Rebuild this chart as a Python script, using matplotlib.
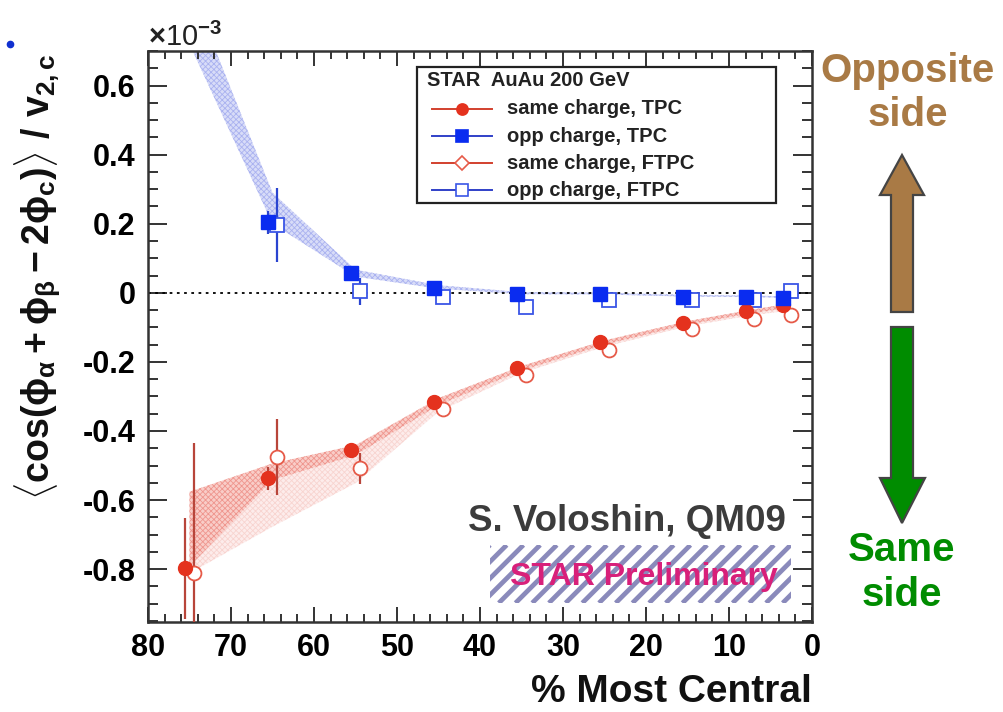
import numpy as np
import matplotlib
matplotlib.use("Agg")
import matplotlib.pyplot as plt
from matplotlib.patches import Polygon, Rectangle
from matplotlib.lines import Line2D
from matplotlib.transforms import Affine2D
from matplotlib.ticker import MultipleLocator

# ---------------------------------------------------------------- data (x 1e-3)
centrality = [75, 65, 55, 45, 35, 25, 15, 7.5, 3]

same_tpc = [-0.798, -0.537, -0.455, -0.315, -0.218, -0.143, -0.086, -0.054, -0.035]
same_tpc_err = [0.147, 0.034, 0.012, 0.010, 0.008, 0.007, 0.007, 0.007, 0.008]
opp_tpc = [np.nan, 0.204, 0.057, 0.0135, -0.004, -0.004, -0.011, -0.011, -0.015]
opp_tpc_err = [np.nan, 0.034, 0.010, 0.008, 0.006, 0.006, 0.006, 0.006, 0.007]
same_ftpc = [-0.810, -0.474, -0.508, -0.337, -0.238, -0.165, -0.105, -0.076, -0.064]
same_ftpc_err = [0.375, 0.110, 0.045, 0.014, 0.012, 0.010, 0.010, 0.010, 0.012]
opp_ftpc = [np.nan, 0.197, 0.004, -0.011, -0.041, -0.022, -0.022, -0.022, 0.004]
opp_ftpc_err = [np.nan, 0.107, 0.038, 0.012, 0.010, 0.008, 0.008, 0.008, 0.010]

# systematic bands
opp_band_lo = [0.72, 0.200, 0.047, 0.012, -0.004, -0.005, -0.011, -0.012, -0.015]
opp_band_hi = [0.89, 0.290, 0.067, 0.022, 0.002, 0.000, -0.006, -0.008, -0.010]
same_band_hi = [-0.576, -0.494, -0.441, -0.305, -0.212, -0.138, -0.082, -0.050, -0.032]
same_band_mid = [-0.793, -0.542, -0.470, -0.325, -0.225, -0.150, -0.092, -0.060, -0.044]
same_band_lo = [-0.812, -0.677, -0.551, -0.344, -0.232, -0.156, -0.097, -0.066, -0.052]

x_ticks = [80, 70, 60, 50, 40, 30, 20, 10, 0]
y_ticks = [-0.8, -0.6, -0.4, -0.2, 0.0, 0.2, 0.4, 0.6]
y_tick_labels = ["-0.8", "-0.6", "-0.4", "-0.2", "0", "0.2", "0.4", "0.6"]
legend_labels = ["same charge, TPC", "opp charge, TPC",
                 "same charge, FTPC", "opp charge, FTPC"]

# ---------------------------------------------------------------- style
W, H = 1004, 712
plt.rcParams["font.family"] = ["Liberation Sans", "DejaVu Sans"]
plt.rcParams["font.weight"] = "bold"
plt.rcParams["mathtext.fontset"] = "custom"
plt.rcParams["mathtext.rm"] = "Liberation Sans:bold"
plt.rcParams["mathtext.it"] = "Liberation Sans:bold"
plt.rcParams["mathtext.bf"] = "Liberation Sans:bold"
plt.rcParams["hatch.linewidth"] = 0.6

RED = "#e4321e"
RED_ERR = "#b8453a"
BLUE = "#0a2cf0"
BLUE_ERR = "#2a44d0"
FRAME = "#333333"

fig = plt.figure(figsize=(W / 100, H / 100), dpi=100)
ax = fig.add_axes([148 / W, 1 - 622 / H, (812 - 148) / W, (622 - 51) / H])

# pixel -> figure transform (origin top-left)
px = Affine2D().scale(1 / W, -1 / H).translate(0, 1) + fig.transFigure

x = np.array(centrality, dtype=float)
dx = 0.5

# bands
ax.fill_between(x, same_band_mid, same_band_lo, facecolor="#fdeceb",
                edgecolor="#f8d4d0", hatch="xxxxxx", lw=0, zorder=1)
ax.fill_between(x, same_band_hi, same_band_mid, facecolor="#f9cdc8",
                edgecolor="#ef968e", hatch="xxxxxx", lw=0, zorder=1.2)
ax.fill_between(x, opp_band_lo, opp_band_hi, facecolor="#d8dcf8",
                edgecolor="#aab2f0", hatch="xxxxxx", lw=0, zorder=1.2)

ax.axhline(0, color="black", ls=(0, (1.5, 2.5)), lw=1.3, zorder=2)

# points
ax.errorbar(x - dx, same_ftpc, yerr=same_ftpc_err, fmt="o", ms=10, mfc="white",
            mec="#e65a48", mew=1.3, ecolor=RED_ERR, elinewidth=1.6, capsize=0, zorder=4)
ax.errorbar(x + dx, same_tpc, yerr=same_tpc_err, fmt="o", ms=10, mfc=RED,
            mec=RED, ecolor=RED_ERR, elinewidth=1.6, capsize=0, zorder=5)
ax.errorbar(x - dx, opp_ftpc, yerr=opp_ftpc_err, fmt="s", ms=10, mfc="white",
            mec="#3a55e6", mew=1.3, ecolor=BLUE_ERR, elinewidth=1.6, capsize=0, zorder=4)
ax.errorbar(x + dx, opp_tpc, yerr=opp_tpc_err, fmt="s", ms=10, mfc=BLUE,
            mec=BLUE, ecolor=BLUE_ERR, elinewidth=1.6, capsize=0, zorder=5)

# axes
ax.set_xlim(80, 0)
ax.set_ylim(-0.953, 0.70)
ax.set_xticks(x_ticks)
ax.set_xticklabels([str(t) for t in x_ticks])
ax.xaxis.set_minor_locator(MultipleLocator(2))
ax.set_yticks(y_ticks)
ax.set_yticklabels(y_tick_labels)
ax.yaxis.set_minor_locator(MultipleLocator(0.05))
ax.tick_params(axis="both", which="both", direction="in", top=True, right=True,
               color=FRAME, width=1.4, labelsize=22)
ax.tick_params(axis="y", which="major", length=14, pad=9)
ax.tick_params(axis="y", which="minor", length=7)
ax.tick_params(axis="x", which="major", length=11, pad=8)
ax.tick_params(axis="x", which="minor", length=6)
for s in ax.spines.values():
    s.set_linewidth(1.8)
    s.set_color(FRAME)

# legend box drawn in axes fraction
def axf(pxx, pyy):
    return ((pxx - 148) / (812 - 148), 1 - (pyy - 51) / (622 - 51))

x0, y0 = axf(417, 203)
x1, y1 = axf(776, 67)
ax.add_patch(Rectangle((x0, y0), x1 - x0, y1 - y0, transform=ax.transAxes,
                       facecolor="white", edgecolor="#222222", lw=1.6, zorder=8))
tx, ty = axf(427, 81)
ax.text(tx, ty, "STAR  AuAu 200 GeV", transform=ax.transAxes, fontsize=14.5,
        va="center", ha="left", color="#222222", zorder=9)
rows = [108.5, 136, 163.5, 190]
styles = [
    dict(color="#d2402e", marker="o", mfc=RED, mec=RED, ms=8),
    dict(color="#3040c8", marker="s", mfc=BLUE, mec=BLUE, ms=8),
    dict(color="#d2402e", marker="D", mfc="white", mec="#e65a48", ms=7),
    dict(color="#3040c8", marker="s", mfc="white", mec="#3a55e6", ms=8),
]
for r, st, lab in zip(rows, styles, legend_labels):
    la, ly = axf(432, r)
    lb, _ = axf(492, r)
    lm, _ = axf(462, r)
    ax.add_line(Line2D([la, lb], [ly, ly], transform=ax.transAxes, color=st["color"],
                       lw=1.4, zorder=9))
    ax.add_line(Line2D([lm], [ly], transform=ax.transAxes, marker=st["marker"],
                       ms=st["ms"], mfc=st["mfc"], mec=st["mec"], mew=1.2,
                       ls="none", zorder=10))
    lt, _ = axf(507, r)
    ax.text(lt, ly, lab, transform=ax.transAxes, fontsize=14.5, va="center",
            ha="left", color="#222222", zorder=9)

# axis titles
fig.text(148, 46, r"$\times$10$^{-3}$", transform=px, fontsize=21,
         fontweight="normal", ha="left", va="baseline", color="#222222")
fig.text(812, 702, "% Most Central", transform=px, fontsize=28,
         ha="right", va="baseline", color="#111111")
fig.text(38, 277,
         r"$\langle\mathrm{cos}(\phi_{\alpha} + \phi_{\beta} - 2\phi_{c})\rangle\ /\ v_{2,c}$",
         transform=px, fontsize=27, rotation=90, ha="center", va="center",
         color="#111111")

# annotation
fig.text(786, 531, "S. Voloshin, QM09", transform=px, fontsize=26.5,
         ha="right", va="baseline", color="#3c3c3c")

# hatched preliminary box
bx0, by0, bx1, by1 = 490, 545, 791, 603
clip = Rectangle((bx0, by0), bx1 - bx0, by1 - by0, transform=px,
                 facecolor="white", edgecolor="none", zorder=6)
fig.add_artist(clip)
hgt = by1 - by0
for sx in np.arange(bx0 - hgt, bx1 + 17, 16.7):
    ln = Line2D([sx, sx + hgt], [by1, by0], transform=px, color="#8a8abb",
                lw=3.4, solid_capstyle="butt", zorder=7)
    ln.set_clip_path(clip)
    fig.add_artist(ln)
fig.text(510, 585, "STAR Preliminary", transform=px, fontsize=23,
         ha="left", va="baseline", color="#d8207a", zorder=8)

# side arrows
BROWN = "#a97a45"
GREEN = "#008c00"
EDGE = "#444444"
up = [(891, 312), (891, 195), (880, 195), (902, 155), (924, 195), (913, 195), (913, 312)]
down = [(891, 327), (891, 478), (880, 478), (902, 523), (925, 478), (913, 478), (913, 327)]
fig.add_artist(Polygon(up, closed=True, transform=px, facecolor=BROWN,
                       edgecolor=EDGE, lw=1.6))
fig.add_artist(Polygon(down, closed=True, transform=px, facecolor=GREEN,
                       edgecolor=EDGE, lw=1.6))
fig.text(908, 82, "Opposite", transform=px, fontsize=29, ha="center",
         va="baseline", color=BROWN)
fig.text(908, 126, "side", transform=px, fontsize=29, ha="center",
         va="baseline", color=BROWN)
fig.text(902, 561, "Same", transform=px, fontsize=29, ha="center",
         va="baseline", color=GREEN)
fig.text(902, 606, "side", transform=px, fontsize=29, ha="center",
         va="baseline", color=GREEN)

# bullet mark at the upper left
fig.add_artist(Line2D([10], [44], transform=px, marker="o", ms=4.5,
                      color="#1030d0", ls="none"))

fig.savefig("out.png", dpi=100)
